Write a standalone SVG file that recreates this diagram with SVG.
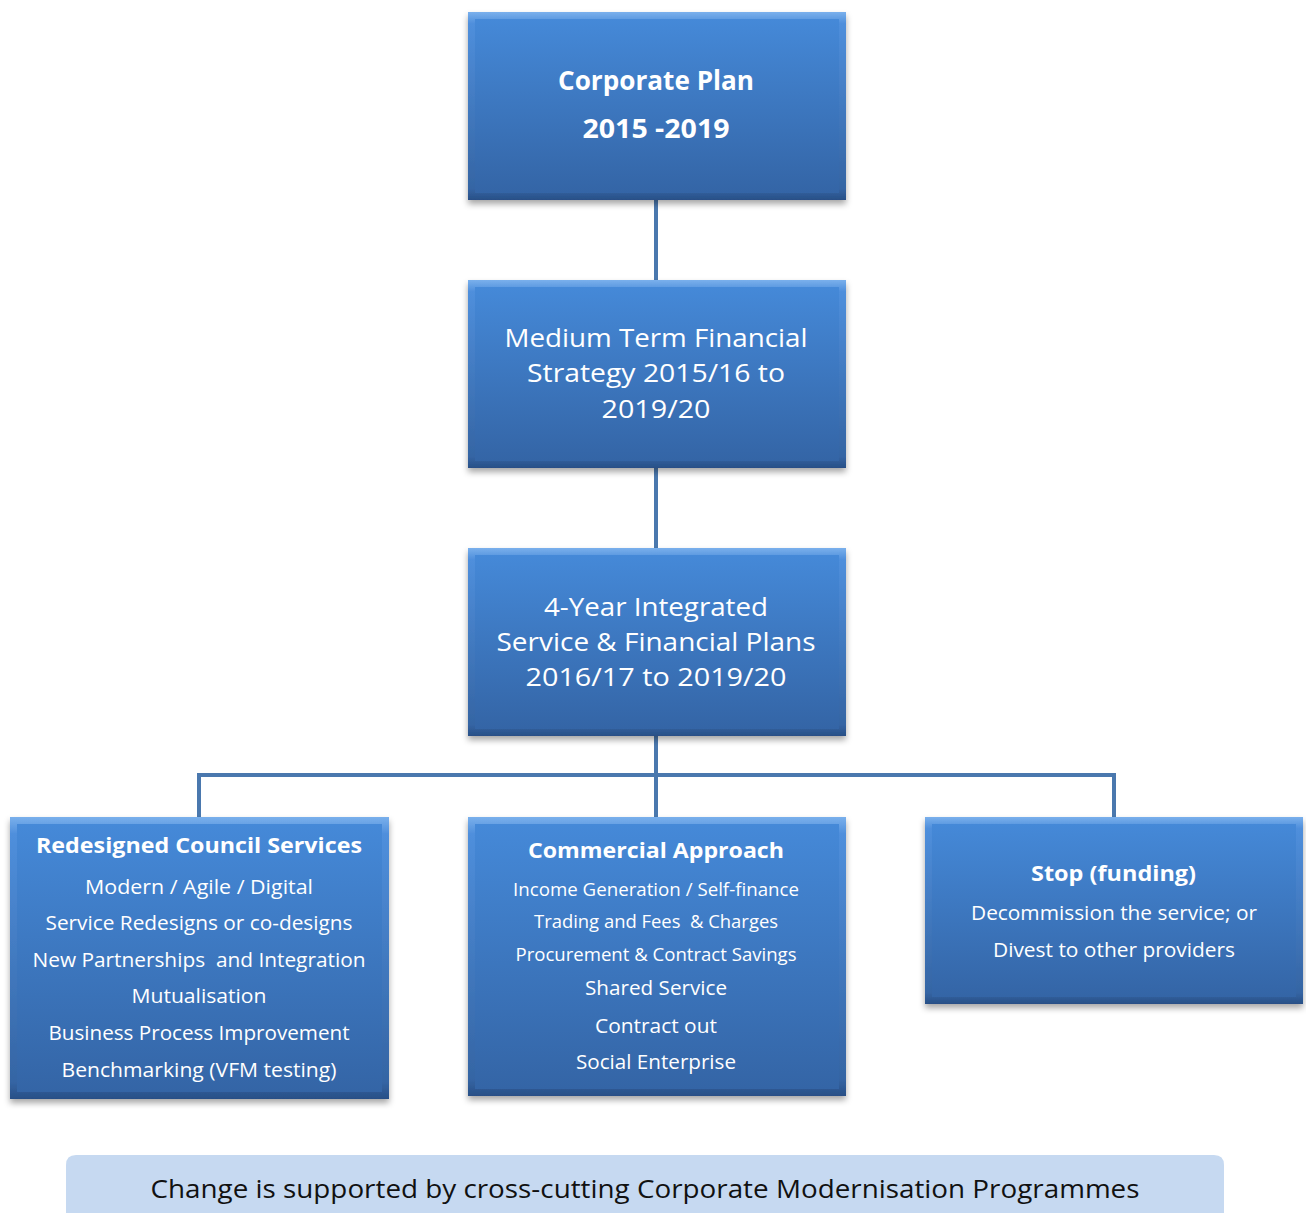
<svg xmlns="http://www.w3.org/2000/svg" width="1306" height="1213" viewBox="0 0 1306 1213">
<defs>
<linearGradient id="gOuter" x1="0" y1="0" x2="0" y2="1">
<stop offset="0" stop-color="#7ab0ec"/>
<stop offset="0.06" stop-color="#4f8fdc"/>
<stop offset="0.94" stop-color="#3565a4"/>
<stop offset="1" stop-color="#284f86"/>
</linearGradient>
<linearGradient id="gInner" x1="0" y1="0" x2="0" y2="1">
<stop offset="0" stop-color="#4589d8"/>
<stop offset="1" stop-color="#3465a6"/>
</linearGradient>
<filter id="sh" x="-5%" y="-5%" width="110%" height="115%">
<feDropShadow dx="0" dy="4" stdDeviation="3" flood-color="#000" flood-opacity="0.35"/>
</filter>
<style>
.outer{fill:url(#gOuter);filter:url(#sh)}
.inner{fill:url(#gInner)}
.t{font-family:"Open Sans","Noto Sans","Liberation Sans",sans-serif;fill:#fff;text-anchor:middle;white-space:pre}
.b{font-weight:bold}
.conn{fill:none;stroke:#4a78ae;stroke-width:4}
</style>
</defs>
<rect width="1306" height="1213" fill="#fff"/>
<g id="connectors">
<line class="conn" x1="656" y1="200" x2="656" y2="280"/>
<line class="conn" x1="656" y1="468" x2="656" y2="548"/>
<line class="conn" x1="656" y1="736" x2="656" y2="817"/>
<polyline class="conn" points="199,817 199,775 1114,775 1114,817"/>
</g>
<g id="corporate-plan">
<rect class="outer" x="468" y="12" width="378" height="188"/>
<rect class="inner" x="475" y="19" width="364" height="174"/>
<text class="t b" x="656" y="90" font-size="26" textLength="196" lengthAdjust="spacingAndGlyphs">Corporate Plan</text>
<text class="t b" x="656" y="138" font-size="26" textLength="147" lengthAdjust="spacingAndGlyphs">2015 -2019</text>
</g>
<g id="mtfs">
<rect class="outer" x="468" y="280" width="378" height="188"/>
<rect class="inner" x="475" y="287" width="364" height="174"/>
<text class="t" x="656" y="347" font-size="26" textLength="303" lengthAdjust="spacingAndGlyphs">Medium Term Financial</text>
<text class="t" x="656" y="382" font-size="26" textLength="258" lengthAdjust="spacingAndGlyphs">Strategy 2015/16 to</text>
<text class="t" x="656" y="418" font-size="26" textLength="109" lengthAdjust="spacingAndGlyphs">2019/20</text>
</g>
<g id="integrated-plans">
<rect class="outer" x="468" y="548" width="378" height="188"/>
<rect class="inner" x="475" y="555" width="364" height="174"/>
<text class="t" x="656" y="616" font-size="26" textLength="224" lengthAdjust="spacingAndGlyphs">4-Year Integrated</text>
<text class="t" x="656" y="651" font-size="26" textLength="319" lengthAdjust="spacingAndGlyphs">Service &amp; Financial Plans</text>
<text class="t" x="656" y="686" font-size="26" textLength="261" lengthAdjust="spacingAndGlyphs">2016/17 to 2019/20</text>
</g>
<g id="redesigned">
<rect class="outer" x="10" y="817" width="379" height="282"/>
<rect class="inner" x="17" y="824" width="365" height="268"/>
<text class="t b" x="199" y="853" font-size="22" textLength="326" lengthAdjust="spacingAndGlyphs">Redesigned Council Services</text>
<text class="t" x="199" y="894" font-size="19.5" textLength="228" lengthAdjust="spacingAndGlyphs">Modern / Agile / Digital</text>
<text class="t" x="199" y="930" font-size="19.5" textLength="307" lengthAdjust="spacingAndGlyphs">Service Redesigns or co-designs</text>
<text class="t" x="199" y="967" font-size="19.5" textLength="333" lengthAdjust="spacingAndGlyphs">New Partnerships  and Integration</text>
<text class="t" x="199" y="1003" font-size="19.5" textLength="135" lengthAdjust="spacingAndGlyphs">Mutualisation</text>
<text class="t" x="199" y="1040" font-size="19.5" textLength="301" lengthAdjust="spacingAndGlyphs">Business Process Improvement</text>
<text class="t" x="199" y="1077" font-size="19.5" textLength="275" lengthAdjust="spacingAndGlyphs">Benchmarking (VFM testing)</text>
</g>
<g id="commercial">
<rect class="outer" x="468" y="817" width="378" height="279"/>
<rect class="inner" x="475" y="824" width="364" height="265"/>
<text class="t b" x="656" y="858" font-size="22" textLength="256" lengthAdjust="spacingAndGlyphs">Commercial Approach</text>
<text class="t" x="656" y="896" font-size="17.5" textLength="286" lengthAdjust="spacingAndGlyphs">Income Generation / Self-finance</text>
<text class="t" x="656" y="928" font-size="17.5" textLength="244" lengthAdjust="spacingAndGlyphs">Trading and Fees  &amp; Charges</text>
<text class="t" x="656" y="961" font-size="17.5" textLength="281" lengthAdjust="spacingAndGlyphs">Procurement &amp; Contract Savings</text>
<text class="t" x="656" y="995" font-size="19.5" textLength="142" lengthAdjust="spacingAndGlyphs">Shared Service</text>
<text class="t" x="656" y="1033" font-size="19.5" textLength="122" lengthAdjust="spacingAndGlyphs">Contract out</text>
<text class="t" x="656" y="1069" font-size="19.5" textLength="160" lengthAdjust="spacingAndGlyphs">Social Enterprise</text>
</g>
<g id="stop">
<rect class="outer" x="925" y="817" width="378" height="187"/>
<rect class="inner" x="932" y="824" width="364" height="173"/>
<text class="t b" x="1113.5" y="881" font-size="22" textLength="165" lengthAdjust="spacingAndGlyphs">Stop (funding)</text>
<text class="t" x="1114" y="920" font-size="19.5" textLength="286" lengthAdjust="spacingAndGlyphs">Decommission the service; or</text>
<text class="t" x="1114" y="957" font-size="19.5" textLength="242" lengthAdjust="spacingAndGlyphs">Divest to other providers</text>
</g>
<g id="banner">
<path d="M66,1223 V1165 Q66,1155 76,1155 H1214 Q1224,1155 1224,1165 V1223 Z" fill="#c6d9f1"/>
<text x="645" y="1198" font-family="'Open Sans','Noto Sans','Liberation Sans',sans-serif" font-size="26" fill="#111" text-anchor="middle" textLength="989" lengthAdjust="spacingAndGlyphs">Change is supported by cross-cutting Corporate Modernisation Programmes</text>
</g>
</svg>
